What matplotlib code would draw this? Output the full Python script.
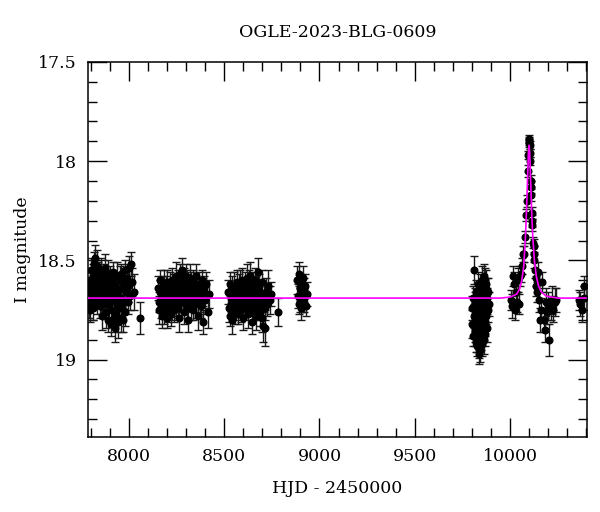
import matplotlib
matplotlib.use("Agg")
import matplotlib.pyplot as plt
from matplotlib.ticker import MultipleLocator

# ── photometry, per observing season (HJD - 2450000, I mag, error) ────────────

s1_t = [7789, 7792, 7794, 7797, 7799, 7802, 7805, 7807, 7810, 7813,
        7816, 7818, 7821, 7824, 7826, 7829, 7831, 7834, 7836, 7839,
        7842, 7844, 7847, 7850, 7852, 7855, 7858, 7861, 7863, 7866,
        7869, 7871, 7874, 7877, 7880, 7882, 7885, 7888, 7891, 7893,
        7896, 7899, 7902, 7905, 7907, 7910, 7913, 7916, 7919, 7921,
        7924, 7927, 7930, 7933, 7936, 7939, 7942, 7945, 7948, 7951,
        7954, 7957, 7960, 7963, 7966, 7969, 7972, 7975, 7978, 7981,
        7985, 7989, 7993, 7997, 8001, 8005, 8010, 8016, 8024, 8058]
s1_m = [18.66, 18.72, 18.60, 18.75, 18.63, 18.55, 18.70, 18.67, 18.58, 18.74,
        18.62, 18.52, 18.68, 18.49, 18.57, 18.64, 18.53, 18.71, 18.61, 18.56,
        18.66, 18.59, 18.73, 18.62, 18.69, 18.55, 18.78, 18.65, 18.60, 18.72,
        18.58, 18.67, 18.54, 18.63, 18.76, 18.61, 18.69, 18.57, 18.80, 18.66,
        18.72, 18.59, 18.64, 18.82, 18.68, 18.75, 18.61, 18.56, 18.79, 18.70,
        18.63, 18.84, 18.66, 18.77, 18.58, 18.72, 18.81, 18.65, 18.74, 18.60,
        18.69, 18.79, 18.57, 18.73, 18.64, 18.80, 18.62, 18.70, 18.55, 18.76,
        18.66, 18.59, 18.71, 18.63, 18.54, 18.68, 18.52, 18.61, 18.66, 18.79]
s1_e = [0.06, 0.07, 0.05, 0.06, 0.07, 0.06, 0.05, 0.08, 0.06, 0.06,
        0.07, 0.06, 0.05, 0.07, 0.06, 0.05, 0.08, 0.06, 0.07, 0.05,
        0.06, 0.07, 0.06, 0.05, 0.08, 0.06, 0.07, 0.06, 0.05, 0.07,
        0.06, 0.05, 0.07, 0.06, 0.08, 0.06, 0.05, 0.07, 0.06, 0.06,
        0.07, 0.06, 0.05, 0.06, 0.07, 0.08, 0.06, 0.05, 0.07, 0.06,
        0.06, 0.07, 0.06, 0.05, 0.07, 0.06, 0.08, 0.06, 0.05, 0.07,
        0.06, 0.07, 0.05, 0.06, 0.08, 0.06, 0.07, 0.06, 0.05, 0.07,
        0.06, 0.07, 0.06, 0.08, 0.06, 0.07, 0.06, 0.07, 0.09, 0.08]

s2_t = [8153, 8156, 8159, 8162, 8165, 8168, 8171, 8174, 8177, 8180,
        8183, 8186, 8189, 8192, 8195, 8198, 8201, 8204, 8207, 8210,
        8213, 8216, 8219, 8222, 8225, 8228, 8231, 8234, 8237, 8240,
        8243, 8246, 8249, 8252, 8255, 8258, 8261, 8264, 8267, 8270,
        8273, 8276, 8279, 8282, 8285, 8288, 8291, 8294, 8297, 8300,
        8303, 8306, 8309, 8312, 8315, 8318, 8321, 8324, 8327, 8330,
        8334, 8338, 8342, 8346, 8350, 8354, 8358, 8362, 8366, 8370,
        8374, 8378, 8382, 8386, 8390, 8395, 8400, 8406, 8413, 8422]
s2_m = [18.64, 18.71, 18.75, 18.66, 18.60, 18.73, 18.68, 18.78, 18.63, 18.70,
        18.62, 18.76, 18.67, 18.72, 18.65, 18.79, 18.61, 18.69, 18.74, 18.66,
        18.71, 18.63, 18.77, 18.68, 18.60, 18.73, 18.66, 18.62, 18.75, 18.69,
        18.64, 18.72, 18.58, 18.67, 18.74, 18.61, 18.79, 18.65, 18.70, 18.57,
        18.68, 18.63, 18.55, 18.71, 18.66, 18.60, 18.76, 18.64, 18.69, 18.58,
        18.73, 18.62, 18.67, 18.80, 18.65, 18.59, 18.70, 18.74, 18.63, 18.68,
        18.61, 18.75, 18.66, 18.70, 18.58, 18.72, 18.64, 18.78, 18.67, 18.62,
        18.69, 18.73, 18.60, 18.66, 18.81, 18.64, 18.70, 18.62, 18.76, 18.67]
s2_e = [0.06, 0.05, 0.07, 0.06, 0.05, 0.06, 0.07, 0.06, 0.05, 0.06,
        0.07, 0.06, 0.05, 0.06, 0.07, 0.05, 0.06, 0.06, 0.07, 0.05,
        0.06, 0.07, 0.06, 0.05, 0.06, 0.07, 0.06, 0.05, 0.06, 0.07,
        0.05, 0.06, 0.07, 0.06, 0.05, 0.06, 0.07, 0.06, 0.06, 0.05,
        0.07, 0.06, 0.06, 0.05, 0.07, 0.06, 0.06, 0.05, 0.07, 0.06,
        0.06, 0.07, 0.05, 0.06, 0.06, 0.07, 0.05, 0.06, 0.07, 0.06,
        0.06, 0.05, 0.07, 0.06, 0.06, 0.07, 0.05, 0.07, 0.06, 0.06,
        0.07, 0.06, 0.05, 0.07, 0.06, 0.06, 0.07, 0.06, 0.08, 0.07]

s3_t = [8522, 8525, 8528, 8531, 8534, 8537, 8540, 8543, 8546, 8549,
        8552, 8555, 8558, 8561, 8564, 8567, 8570, 8573, 8576, 8579,
        8582, 8585, 8588, 8591, 8594, 8597, 8600, 8603, 8606, 8609,
        8612, 8615, 8618, 8621, 8624, 8627, 8630, 8633, 8636, 8639,
        8642, 8645, 8648, 8651, 8654, 8657, 8660, 8663, 8666, 8669,
        8672, 8675, 8678, 8681, 8684, 8687, 8690, 8693, 8696, 8700,
        8704, 8708, 8712, 8716, 8720, 8725, 8731, 8738, 8747, 8784]
s3_m = [18.66, 18.74, 18.62, 18.78, 18.69, 18.72, 18.64, 18.80, 18.67, 18.71,
        18.63, 18.76, 18.70, 18.66, 18.73, 18.61, 18.68, 18.77, 18.64, 18.72,
        18.69, 18.62, 18.75, 18.67, 18.60, 18.71, 18.79, 18.65, 18.70, 18.63,
        18.74, 18.68, 18.59, 18.72, 18.66, 18.77, 18.61, 18.70, 18.58, 18.73,
        18.65, 18.69, 18.81, 18.62, 18.75, 18.67, 18.71, 18.60, 18.78, 18.64,
        18.70, 18.74, 18.56, 18.68, 18.63, 18.76, 18.66, 18.72, 18.79, 18.61,
        18.83, 18.69, 18.74, 18.84, 18.66, 18.72, 18.63, 18.70, 18.67, 18.76]
s3_e = [0.06, 0.07, 0.06, 0.05, 0.07, 0.06, 0.06, 0.07, 0.05, 0.06,
        0.07, 0.06, 0.05, 0.06, 0.07, 0.06, 0.06, 0.05, 0.07, 0.06,
        0.06, 0.07, 0.06, 0.05, 0.06, 0.07, 0.06, 0.06, 0.05, 0.07,
        0.06, 0.06, 0.07, 0.05, 0.06, 0.07, 0.06, 0.06, 0.07, 0.05,
        0.06, 0.07, 0.06, 0.06, 0.05, 0.07, 0.06, 0.06, 0.07, 0.06,
        0.05, 0.06, 0.07, 0.06, 0.06, 0.07, 0.05, 0.06, 0.07, 0.06,
        0.08, 0.07, 0.06, 0.09, 0.07, 0.06, 0.08, 0.07, 0.06, 0.07]

s4_t = [8884, 8887, 8890, 8893, 8896, 8899, 8902, 8905,
        8908, 8911, 8914, 8917, 8920, 8924, 8928, 8933]
s4_m = [18.60, 18.68, 18.57, 18.72, 18.64, 18.70, 18.62, 18.74,
        18.66, 18.59, 18.71, 18.65, 18.69, 18.63, 18.73, 18.67]
s4_e = [0.07, 0.06, 0.06, 0.05, 0.07, 0.06, 0.05, 0.06,
        0.07, 0.06, 0.05, 0.06, 0.07, 0.06, 0.05, 0.06]

s5_t = [9800, 9803, 9806, 9808, 9811, 9813, 9815, 9817, 9819, 9821,
        9823, 9825, 9827, 9829, 9831, 9833, 9835, 9837, 9839, 9841,
        9843, 9845, 9847, 9849, 9851, 9853, 9855, 9857, 9859, 9861,
        9863, 9865, 9867, 9869, 9871, 9873, 9875, 9877, 9879, 9881,
        9814, 9818, 9822, 9826, 9830, 9834, 9838, 9842, 9846, 9850,
        9854, 9858, 9862, 9866, 9870, 9874, 9878, 9883, 9887, 9891]
s5_m = [18.74, 18.82, 18.69, 18.88, 18.55, 18.78, 18.85, 18.71, 18.91, 18.66,
        18.80, 18.75, 18.93, 18.68, 18.84, 18.62, 18.89, 18.97, 18.73, 18.95,
        18.79, 18.64, 18.86, 18.71, 18.92, 18.60, 18.77, 18.83, 18.67, 18.90,
        18.73, 18.58, 18.81, 18.69, 18.87, 18.62, 18.76, 18.65, 18.84, 18.71,
        18.72, 18.86, 18.77, 18.90, 18.70, 18.82, 18.93, 18.75, 18.88, 18.79,
        18.85, 18.70, 18.80, 18.74, 18.60, 18.78, 18.69, 18.75, 18.66, 18.72]
s5_e = [0.06, 0.07, 0.06, 0.05, 0.07, 0.06, 0.06, 0.07, 0.05, 0.06,
        0.07, 0.06, 0.05, 0.06, 0.07, 0.06, 0.06, 0.05, 0.07, 0.06,
        0.06, 0.07, 0.06, 0.05, 0.06, 0.07, 0.06, 0.06, 0.05, 0.07,
        0.06, 0.06, 0.07, 0.05, 0.06, 0.07, 0.06, 0.06, 0.07, 0.05,
        0.06, 0.07, 0.06, 0.06, 0.05, 0.07, 0.06, 0.06, 0.07, 0.06,
        0.05, 0.06, 0.07, 0.06, 0.06, 0.07, 0.05, 0.06, 0.07, 0.06]

s6_t = [10003, 10010, 10016, 10021, 10026, 10030, 10036, 10042, 10047, 10052,
        10058, 10064, 10068, 10074, 10079, 10084, 10089, 10093, 10097, 10099,
        10100, 10101, 10103, 10104, 10106, 10109, 10110, 10112, 10115, 10117,
        10118, 10121, 10124, 10126, 10127, 10130, 10134, 10138, 10143, 10148,
        10153, 10158, 10163, 10170, 10176, 10182, 10188, 10194, 10200, 10206,
        10213, 10220, 10227, 10235, 10242]
s6_m = [18.70, 18.73, 18.58, 18.62, 18.75, 18.66, 18.71, 18.60, 18.72, 18.58,
        18.57, 18.53, 18.47, 18.47, 18.38, 18.27, 18.20, 18.05, 17.97, 17.91,
        17.89, 17.90, 17.92, 17.96, 18.00, 18.10, 18.13, 18.17, 18.26, 18.30,
        18.32, 18.41, 18.43, 18.47, 18.50, 18.55, 18.59, 18.63, 18.66, 18.56,
        18.70, 18.80, 18.75, 18.61, 18.80, 18.85, 18.71, 18.76, 18.73, 18.90,
        18.74, 18.70, 18.75, 18.71, 18.70]
s6_e = [0.05, 0.06, 0.05, 0.06, 0.05, 0.06, 0.05, 0.06, 0.05, 0.05,
        0.04, 0.04, 0.04, 0.04, 0.03, 0.03, 0.03, 0.03, 0.02, 0.02,
        0.02, 0.02, 0.02, 0.02, 0.02, 0.03, 0.03, 0.03, 0.03, 0.03,
        0.03, 0.03, 0.04, 0.04, 0.04, 0.04, 0.04, 0.05, 0.05, 0.05,
        0.06, 0.06, 0.06, 0.05, 0.06, 0.06, 0.07, 0.06, 0.07, 0.08,
        0.06, 0.07, 0.06, 0.07, 0.06]

s7_t = [10362, 10367, 10380, 10386, 10390]
s7_m = [18.70, 18.72, 18.75, 18.63, 18.69]
s7_e = [0.05, 0.06, 0.06, 0.05, 0.06]

# ── best-fit model curve ──────────────────────────────────────────────────────

model_t = [7785, 9950, 10000, 10035, 10050, 10062, 10072, 10080, 10085, 10090,
           10094, 10097, 10100, 10103, 10106, 10110, 10115, 10120, 10128,
           10138, 10150, 10165, 10190, 10250, 10404]
model_m = [18.69, 18.69, 18.685, 18.67, 18.645, 18.60, 18.53, 18.40, 18.29, 18.15,
           18.03, 17.95, 17.92, 17.95, 18.03, 18.15, 18.29, 18.39, 18.50,
           18.58, 18.63, 18.66, 18.68, 18.69, 18.69]

TITLE = "OGLE-2023-BLG-0609"

# ── figure ────────────────────────────────────────────────────────────────────

plt.rcParams["font.family"] = "DejaVu Serif"

fig = plt.figure(figsize=(6.0, 5.12), dpi=100)
ax = fig.add_axes([0.1467, 0.1465, 0.8316, 0.7325])

seasons = [(s1_t, s1_m, s1_e), (s2_t, s2_m, s2_e), (s3_t, s3_m, s3_e),
           (s4_t, s4_m, s4_e), (s5_t, s5_m, s5_e), (s6_t, s6_m, s6_e),
           (s7_t, s7_m, s7_e)]
for t, m, e in seasons:
    ax.errorbar(t, m, yerr=e, fmt="o", color="black", ecolor="#1a1a1a",
                markersize=4.8, elinewidth=1.0, capsize=2.8, capthick=1.0,
                zorder=2)

ax.plot(model_t, model_m, color="#ff00ff", linewidth=1.2, zorder=3)

ax.set_xlim(7785, 10404)
ax.set_ylim(19.39, 17.5)

ax.xaxis.set_major_locator(MultipleLocator(500))
ax.xaxis.set_minor_locator(MultipleLocator(100))
ax.yaxis.set_major_locator(MultipleLocator(0.5))
ax.yaxis.set_minor_locator(MultipleLocator(0.1))
ax.yaxis.set_major_formatter(plt.FuncFormatter(lambda v, p: f"{v:g}"))

ax.tick_params(which="both", direction="in", top=True, right=True,
               width=1.0, labelsize=12.5)
ax.tick_params(which="major", length=13.5, pad=8)
ax.tick_params(which="minor", length=6.5)
for s in ax.spines.values():
    s.set_linewidth(1.1)

ax.set_xlabel("HJD - 2450000", fontsize=12.5, labelpad=11)
ax.set_ylabel("I magnitude", fontsize=12.5, labelpad=5)
fig.text(0.563, 0.936, TITLE, ha="center", va="center", fontsize=12.5)

fig.savefig("out.png", dpi=100)
